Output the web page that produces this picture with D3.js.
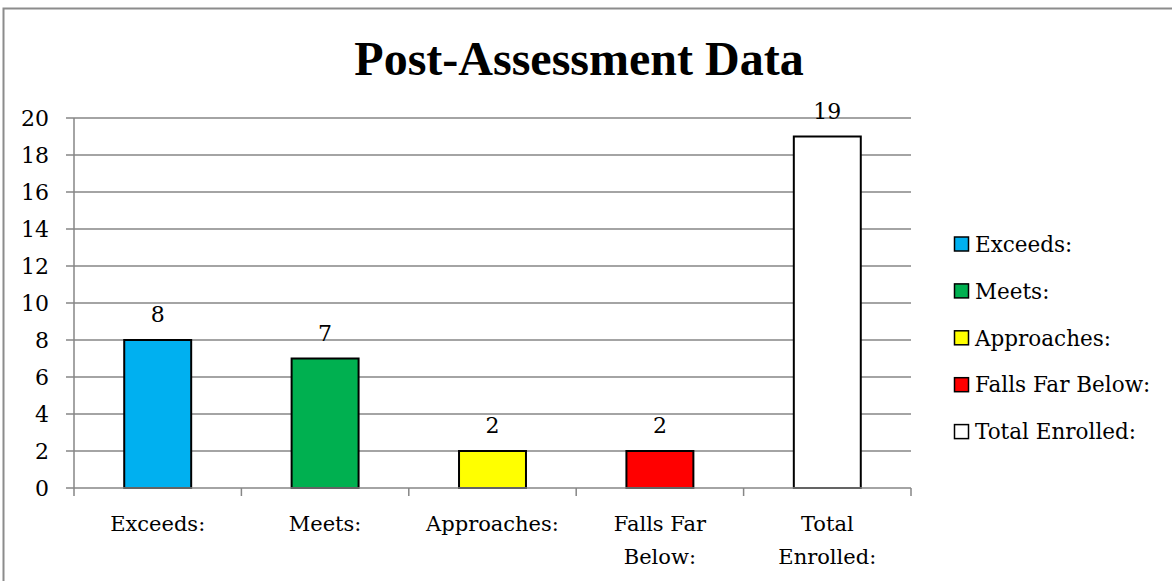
<!DOCTYPE html>
<html>
<head>
<meta charset="utf-8">
<script src="https://cdn.jsdelivr.net/npm/d3@7"></script>
<style>
  body { margin: 0; background: #fff; }
  text { font-family: "DejaVu Serif", "Liberation Serif", serif; }
</style>
</head>
<body>
<div id="chart"></div>
<script>
(function() {
  var categories = ["Exceeds:", "Meets:", "Approaches:", "Falls Far Below:", "Total Enrolled:"];
  var axisLabels = [["Exceeds:"], ["Meets:"], ["Approaches:"], ["Falls Far", "Below:"], ["Total", "Enrolled:"]];
  var values = [8, 7, 2, 2, 19];
  var colors = ["#00B0F0", "#00B050", "#FFFF00", "#FF0000", "#FFFFFF"];
  var yTicks = [0, 2, 4, 6, 8, 10, 12, 14, 16, 18, 20];

  var outerWidth = 1172,
      outerHeight = 581,
      margin = { top: 118, right: 261, bottom: 93, left: 74 },
      width = outerWidth - margin.left - margin.right,
      height = outerHeight - margin.top - margin.bottom,
      fontSize = "21px";

  var svg = d3.select("#chart").append("svg")
      .attr("width", outerWidth)
      .attr("height", outerHeight);

  // chart frame (only left and top edges fall inside the picture)
  svg.append("path")
      .attr("d", "M3.5," + outerHeight + "V8.5H" + outerWidth)
      .attr("fill", "none")
      .attr("stroke", "#8c8c8c")
      .attr("stroke-width", 2);

  svg.append("text")
      .attr("x", 579)
      .attr("y", 75)
      .attr("text-anchor", "middle")
      .style("font-family", "'Liberation Serif', serif")
      .style("font-size", "48px")
      .style("font-weight", "bold")
      .text("Post-Assessment Data");

  var g = svg.append("g")
      .attr("transform", "translate(" + margin.left + "," + margin.top + ")");

  var x = d3.scaleBand()
      .domain(categories)
      .range([0, width])
      .paddingInner(0.6)
      .paddingOuter(0.3);

  var y = d3.scaleLinear()
      .domain([0, 20])
      .range([height, 0]);

  // gridlines
  g.append("g")
    .selectAll("line")
    .data(yTicks.slice(1))
    .join("line")
      .attr("x1", -8)
      .attr("x2", width)
      .attr("y1", d => y(d))
      .attr("y2", d => y(d))
      .attr("stroke", "#868686")
      .attr("stroke-width", 1.5);

  // y axis
  g.append("line")
      .attr("y1", 0).attr("y2", height)
      .attr("stroke", "#868686").attr("stroke-width", 1.5);

  g.append("g")
    .selectAll("text")
    .data(yTicks)
    .join("text")
      .attr("x", -25)
      .attr("y", d => y(d))
      .attr("dy", "0.36em")
      .attr("text-anchor", "end")
      .attr("font-size", "22px")
      .text(d => d);

  g.append("line")
      .attr("x1", -8).attr("x2", 0)
      .attr("y1", height).attr("y2", height)
      .attr("stroke", "#868686").attr("stroke-width", 1.5);

  // bars
  g.append("g")
    .selectAll("rect")
    .data(values)
    .join("rect")
      .attr("x", (d, i) => x(categories[i]))
      .attr("y", d => y(d))
      .attr("width", x.bandwidth())
      .attr("height", d => height - y(d))
      .attr("fill", (d, i) => colors[i])
      .attr("stroke", "#000")
      .attr("stroke-width", 2);

  // x axis
  var step = width / categories.length;
  g.append("line")
      .attr("x1", 0).attr("x2", width)
      .attr("y1", height).attr("y2", height)
      .attr("stroke", "#868686").attr("stroke-width", 1.5);

  g.append("g")
    .selectAll("line")
    .data(d3.range(categories.length + 1))
    .join("line")
      .attr("x1", d => d * step).attr("x2", d => d * step)
      .attr("y1", height).attr("y2", height + 8)
      .attr("stroke", "#868686").attr("stroke-width", 1.5);

  // data labels
  g.append("g")
    .selectAll("text")
    .data(values)
    .join("text")
      .attr("x", (d, i) => x(categories[i]) + x.bandwidth() / 2)
      .attr("y", d => y(d) - 18)
      .attr("text-anchor", "middle")
      .attr("font-size", "22px")
      .text(d => d);

  // category labels
  g.append("g")
    .selectAll("text")
    .data(axisLabels)
    .join("text")
      .attr("x", (d, i) => x(categories[i]) + x.bandwidth() / 2)
      .attr("y", height + 43)
      .attr("text-anchor", "middle")
      .attr("font-size", fontSize)
    .selectAll("tspan")
    .data(d => d)
    .join("tspan")
      .attr("x", function() { return this.parentNode.getAttribute("x"); })
      .attr("dy", (d, i) => i === 0 ? 0 : 33)
      .text(d => d);

  // legend
  var legend = svg.append("g")
      .attr("transform", "translate(954,244)")
    .selectAll("g")
    .data(categories)
    .join("g")
      .attr("transform", (d, i) => "translate(0," + (i * 46.9) + ")");

  legend.append("rect")
      .attr("x", 0.5)
      .attr("y", -7)
      .attr("width", 14)
      .attr("height", 14)
      .attr("fill", (d, i) => colors[i])
      .attr("stroke", "#000")
      .attr("stroke-width", 1.5);

  legend.append("text")
      .attr("x", 21)
      .attr("dy", "0.36em")
      .attr("font-size", "21.5px")
      .text(d => d);
})();
</script>
</body>
</html>
